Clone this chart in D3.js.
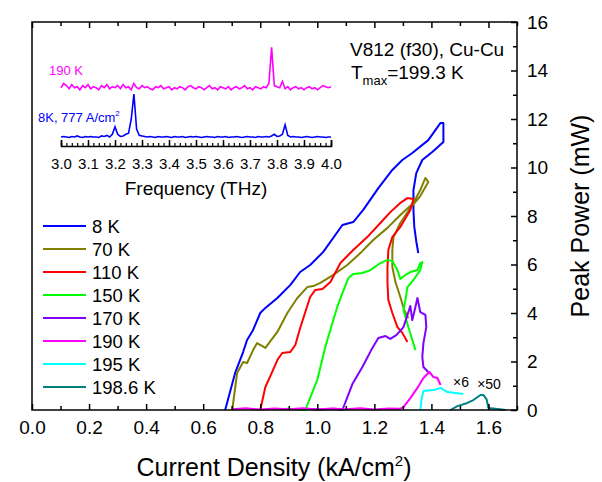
<!DOCTYPE html>
<html>
<head>
<meta charset="utf-8">
<script src="https://cdn.jsdelivr.net/npm/d3@7"></script>
<style>
  body { margin: 0; background: #fff; }
  text { font-family: "Liberation Sans", Arial, sans-serif; }
</style>
</head>
<body>
<div id="chart"></div>
<script>
// series names + colours
var temps = ["8 K", "70 K", "110 K", "150 K", "170 K", "190 K", "195 K", "198.6 K"];
var colors = ["#0000ff", "#808000", "#ff0000", "#00ff00", "#8000ff", "#ff00ff", "#00ffff", "#008080"];

// [current density kA/cm2, peak power mW]
var s8 = [[0.677,0],[0.712,1.53],[0.740,2.39],[0.754,2.89],[0.775,3.30],[0.800,4.0],[0.818,4.21],[0.860,4.62],
  [0.905,5.15],[0.940,5.69],[0.975,5.98],[1.021,6.52],[1.088,7.63],[1.126,7.75],[1.161,8.25],[1.214,9.15],
  [1.263,9.90],[1.298,10.31],[1.333,10.60],[1.389,11.13],[1.432,11.84],[1.442,11.84],[1.442,11.05],
  [1.404,10.65],[1.368,10.31],[1.347,9.77],[1.337,9.07],[1.337,8.25],[1.340,7.55],[1.347,6.95],[1.354,6.47]];
var s70 = [[0.702,0],[0.719,1.53],[0.740,1.98],[0.754,1.94],[0.775,2.47],[0.789,2.76],[0.818,2.56],[0.860,3.22],
  [0.895,4.0],[0.930,4.62],[0.965,5.07],[0.986,5.11],[1.011,5.24],[1.056,5.57],[1.105,5.98],[1.151,6.47],
  [1.196,7.01],[1.246,7.51],[1.291,8.04],[1.337,8.54],[1.361,9.07],[1.379,9.57],[1.389,9.40],[1.361,8.82],
  [1.326,8.33],[1.291,7.71],[1.267,7.13],[1.263,6.60],[1.263,5.90],[1.274,5.28],[1.291,4.66],[1.305,4.12],[1.319,3.79]];
var s110 = [[0.800,0],[0.818,0.95],[0.842,1.57],[0.860,2.06],[0.877,2.35],[0.905,2.39],[0.923,2.68],[0.940,3.38],
  [0.958,4.04],[0.975,4.66],[0.993,4.95],[1.018,4.99],[1.046,5.28],[1.081,6.06],[1.126,6.60],[1.175,7.13],
  [1.221,7.71],[1.256,8.16],[1.291,8.54],[1.316,8.74],[1.337,8.70],[1.326,8.25],[1.291,7.55],[1.263,7.13],
  [1.249,6.60],[1.246,5.90],[1.246,5.24],[1.249,4.54],[1.263,4.0],[1.281,3.42],[1.298,3.18],[1.316,2.80]];
var s150 = [[0.86,0.03],[0.90,0.05],[0.94,0.02],[0.958,0],[1.0,1.24],[1.028,2.60],[1.053,3.59],[1.070,4.25],[1.088,4.82],
  [1.109,5.44],[1.126,5.61],[1.158,5.65],[1.186,5.77],[1.221,6.06],[1.246,6.19],[1.263,6.14],[1.281,5.77],
  [1.291,5.40],[1.309,5.57],[1.326,5.69],[1.351,5.77],[1.361,6.06],[1.368,6.10],[1.361,5.77],[1.337,5.36],
  [1.316,5.07],[1.309,4.54],[1.302,4.12],[1.319,3.42],[1.344,2.47]];
var s170 = [[0.98,0.04],[1.02,0.02],[1.06,0.05],[1.088,0],[1.123,1.07],[1.158,1.77],[1.189,2.47],[1.214,2.97],[1.239,3.05],
  [1.256,2.93],[1.277,3.09],[1.302,3.42],[1.316,3.92],[1.326,4.29],[1.333,3.71],[1.344,4.25],[1.351,4.62],
  [1.361,4.04],[1.379,3.92],[1.382,3.42],[1.372,2.76],[1.368,2.19],[1.372,1.77],[1.389,1.57]];
var s190 = [[0.70,0.03],[0.75,0.07],[0.80,0.02],[0.85,0.06],[0.90,0.03],[0.95,0.07],[1.00,0.02],[1.05,0.06],
  [1.10,0.03],[1.15,0.07],[1.20,0.02],[1.25,0.06],[1.29,0.05],[1.302,0.12],[1.326,0.49],[1.351,0.91],
  [1.372,1.32],[1.393,1.57],[1.407,1.36],[1.421,1.32],[1.432,1.03]];
var s195 = [[1.361,0],[1.365,0.41],[1.372,0.78],[1.407,0.82],[1.432,0.91],[1.456,0.74],[1.512,0.66]];
var s198 = [[1.467,0],[1.491,0.16],[1.526,0.29],[1.547,0.41],[1.572,0.62],[1.582,0.62],[1.593,0.45],
  [1.600,0.08],[1.632,0.04],[1.66,0]];
var series = [s8, s70, s110, s150, s170, s190, s195, s198];

// inset spectra, 3.00 .. 4.00 THz every 0.01, arbitrary units
var spec190 = [5.5,5.9,5.7,5.4,5.8,5.5,5.6,5.3,5.7,5.5,
  5.8,5.4,5.6,5.5,5.3,5.7,5.5,5.8,5.4,5.6,
  5.5,5.7,5.4,5.8,5.5,5.6,5.3,5.9,5.5,5.4,
  5.7,5.5,5.6,5.4,5.3,5.6,5.5,5.7,5.4,5.5,
  5.6,5.3,5.5,5.4,5.6,5.5,5.3,5.6,5.7,5.5,
  5.4,5.6,5.5,5.3,5.5,5.7,5.4,5.5,5.3,5.6,
  5.5,5.4,5.6,5.3,5.5,5.6,5.4,5.5,5.7,5.4,
  5.5,5.3,5.6,5.5,5.4,5.6,5.5,5.9,9.3,5.7,
  5.6,5.5,6.1,5.4,5.6,5.3,5.5,5.6,5.4,5.5,
  5.3,5.5,5.6,5.4,5.5,5.3,5.5,5.7,5.6,5.5,5.6];
var spec8 = [0.85,0.9,0.85,0.8,0.9,0.85,0.95,0.85,0.8,0.9,
  0.85,0.9,0.85,0.85,0.8,0.95,0.9,1.0,0.85,1.1,
  1.8,1.1,0.9,0.95,1.1,1.2,2.5,4.9,1.6,1.0,
  0.95,0.9,0.85,0.9,0.85,0.8,0.9,0.85,0.85,0.9,
  0.85,0.8,0.9,0.85,0.85,0.9,0.8,0.85,0.9,0.85,
  0.9,0.85,0.8,0.85,0.9,0.85,0.85,0.8,0.9,0.85,
  0.85,0.9,0.8,0.85,0.85,0.9,0.85,0.8,0.85,0.9,
  0.85,0.85,0.8,0.9,0.85,0.85,0.9,0.85,0.95,1.1,
  0.9,0.95,1.1,2.0,1.0,0.85,0.9,0.85,0.85,0.8,
  0.85,0.9,0.85,0.8,0.85,0.9,0.85,0.85,0.8,0.85,0.85];
var freqs = d3.range(101).map(function (i) { return 3 + i / 100 });

var width = 602, height = 482;
var svg = d3.select("#chart").append("svg")
    .attr("width", width)
    .attr("height", height);

var x = d3.scaleLinear().domain([0, 1.7]).range([32, 517]);
var y = d3.scaleLinear().domain([0, 16]).range([410, 22]);

var line = d3.line()
    .x(function (d) { return x(d[0]) })
    .y(function (d) { return y(d[1]) });

// curves
svg.selectAll(".curve")
    .data(series)
    .enter().append("path")
    .attr("class", "curve")
    .attr("d", line)
    .attr("fill", "none")
    .attr("stroke", function (d, i) { return colors[i] })
    .attr("stroke-width", 2)
    .attr("stroke-linejoin", "round");

// frame
svg.append("rect")
    .attr("x", 32).attr("y", 22)
    .attr("width", 485).attr("height", 388)
    .attr("fill", "none")
    .attr("stroke", "#000")
    .attr("stroke-width", 1.5);

var fmt = d3.format(".1f");
var majorX = d3.range(9).map(function (i) { return i * 0.2 });
var minorX = d3.range(9).map(function (i) { return i * 0.2 + 0.1 });

function styleAxis(g) {
    g.select(".domain").remove();
    g.selectAll(".tick line").attr("stroke", "#000").attr("stroke-width", 1.5);
}

svg.append("g")
    .attr("transform", "translate(0,410)")
    .call(d3.axisBottom(x).tickValues(majorX).tickFormat(fmt).tickSize(-6).tickPadding(11))
    .call(styleAxis)
    .selectAll("text").attr("font-size", 19).attr("fill", "#000");
svg.append("g")
    .attr("transform", "translate(0,410)")
    .call(d3.axisBottom(x).tickValues(minorX).tickFormat("").tickSize(-4))
    .call(styleAxis);
svg.append("g")
    .attr("transform", "translate(0,22)")
    .call(d3.axisTop(x).tickValues(majorX).tickFormat("").tickSize(-6))
    .call(styleAxis);
svg.append("g")
    .attr("transform", "translate(0,22)")
    .call(d3.axisTop(x).tickValues(minorX).tickFormat("").tickSize(-4))
    .call(styleAxis);

svg.append("g")
    .attr("transform", "translate(517,0)")
    .call(d3.axisRight(y).tickValues(d3.range(0, 17, 2)).tickSize(-6).tickPadding(10))
    .call(styleAxis)
    .selectAll("text").attr("font-size", 19).attr("fill", "#000");
svg.append("g")
    .attr("transform", "translate(517,0)")
    .call(d3.axisRight(y).tickValues(d3.range(1, 16, 2)).tickFormat("").tickSize(-4))
    .call(styleAxis);

// axis titles
var xt = svg.append("text")
    .attr("x", 274).attr("y", 476)
    .attr("text-anchor", "middle")
    .attr("font-size", 25)
    .text("Current Density (kA/cm");
xt.append("tspan").attr("font-size", 15).attr("dy", -10).text("2");
xt.append("tspan").attr("dy", 10).text(")");

svg.append("text")
    .attr("transform", "translate(589,216) rotate(-90)")
    .attr("text-anchor", "middle")
    .attr("font-size", 25)
    .text("Peak Power (mW)");

// legend
var legend = svg.selectAll(".legend")
    .data(temps)
    .enter().append("g")
    .attr("class", "legend")
    .attr("transform", function (d, i) { return "translate(43," + (226 + i * 23) + ")" });
legend.append("line")
    .attr("x1", 0).attr("x2", 43)
    .attr("stroke", function (d, i) { return colors[i] })
    .attr("stroke-width", 2);
legend.append("text")
    .attr("x", 49).attr("dy", "0.36em")
    .attr("font-size", 18.5)
    .text(function (d) { return d });

// multipliers
svg.append("text").attr("x", 461).attr("y", 387).attr("text-anchor", "middle")
    .attr("font-size", 14).text("\u00d76");
svg.append("text").attr("x", 489).attr("y", 389).attr("text-anchor", "middle")
    .attr("font-size", 14).text("\u00d750");

// sample info
svg.append("text").attr("x", 350).attr("y", 56).attr("font-size", 19).text("V812 (f30), Cu-Cu");
var tm = svg.append("text").attr("x", 351).attr("y", 79).attr("font-size", 19).text("T");
tm.append("tspan").attr("font-size", 13).attr("dy", 6).text("max");
tm.append("tspan").attr("dy", -6).text("=199.3 K");

// inset
var fx = d3.scaleLinear().domain([3.0, 4.0]).range([61, 331]);
var fy = d3.scaleLinear().domain([0, 10]).range([146, 40]);
var specLine = d3.line()
    .x(function (d, i) { return fx(freqs[i]) })
    .y(function (d) { return fy(d) });

svg.append("path").attr("d", specLine(spec190))
    .attr("fill", "none").attr("stroke", "#ff00ff").attr("stroke-width", 1.6);
svg.append("path").attr("d", specLine(spec8))
    .attr("fill", "none").attr("stroke", "#0000ff").attr("stroke-width", 1.6);

var inset = svg.append("g").attr("transform", "translate(0,146)");
inset.call(d3.axisBottom(fx).tickValues(d3.range(11).map(function (i) { return 3 + i / 10 }))
        .tickFormat(fmt).tickSize(-6).tickPadding(12))
    .selectAll("text").attr("font-size", 15).attr("fill", "#000");
inset.select(".domain").attr("stroke", "#000").attr("stroke-width", 1.5);
inset.selectAll(".tick line").attr("stroke-width", 1.5);
svg.append("g").attr("transform", "translate(0,146)")
    .call(d3.axisBottom(fx).tickValues(d3.range(51).map(function (i) { return 3 + i / 50 }))
        .tickFormat("").tickSize(-3))
    .call(function (g) { g.select(".domain").remove(); g.selectAll(".tick line").attr("stroke-width", 1.2) });

svg.append("text").attr("x", 196).attr("y", 195).attr("text-anchor", "middle")
    .attr("font-size", 19).text("Frequency (THz)");
svg.append("text").attr("x", 49).attr("y", 75).attr("font-size", 13)
    .attr("fill", "#ff00ff").text("190 K");
var lb = svg.append("text").attr("x", 38).attr("y", 122).attr("font-size", 13)
    .attr("fill", "#0000ff").text("8K, 777 A/cm");
lb.append("tspan").attr("font-size", 8).attr("dy", -6).text("2");
</script>
</body>
</html>
